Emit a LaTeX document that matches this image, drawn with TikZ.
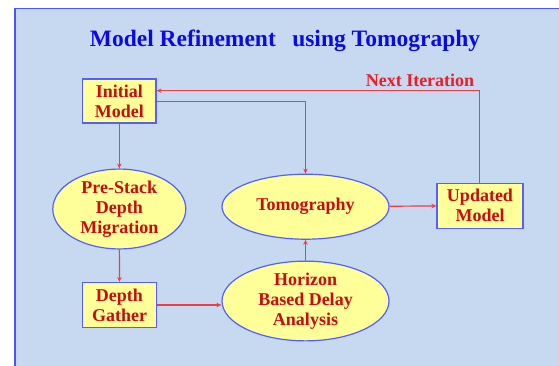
\documentclass[tikz,border=0pt]{standalone}
\usepackage{fontspec}
\setmainfont{LiberationSerif}[Extension=.ttf, UprightFont=*-Regular, BoldFont=*-Bold, ItalicFont=*-Italic, BoldItalicFont=*-BoldItalic]
\usetikzlibrary{shapes.geometric,arrows.meta}
\definecolor{panelbg}{RGB}{198,217,240}
\definecolor{panelline}{RGB}{80,80,255}
\definecolor{nodeline}{RGB}{85,95,255}
\definecolor{nodefill}{RGB}{255,255,153}
\definecolor{nodetext}{RGB}{200,12,20}
\definecolor{arrowred}{RGB}{240,60,70}
\definecolor{labelred}{RGB}{235,30,40}
\definecolor{titleblue}{RGB}{10,10,230}
\tikzset{
  boxnode/.style={draw=nodeline, line width=1.2pt, fill=nodefill, text=nodetext,
    font=\fontsize{18}{20}\selectfont\bfseries, align=center, inner sep=0pt},
  ellnode/.style={ellipse, draw=nodeline, line width=1.2pt, fill=nodefill, text=nodetext,
    font=\fontsize{18}{20}\selectfont\bfseries, align=center, inner sep=0pt},
  arr/.style={draw=arrowred, line width=1.2pt, -{Stealth[length=5pt,width=4.5pt]}}
}
\begin{document}
\begin{tikzpicture}[x=1pt,y=-1pt]
\useasboundingbox (0,0) rectangle (559,365);
\fill[white] (0,0) rectangle (559,365);
\fill[panelbg] (15,8.5) rectangle (560,366);
\draw[panelline, line width=1.2pt] (15,366) -- (15,8.5) -- (560,8.5);
\node[anchor=base, text=titleblue, font=\fontsize{23.5}{28}\selectfont\bfseries] (title) at (285,46)
  {Model Refinement\hspace{0.7em}using Tomography};
\node[boxnode, minimum width=73.5pt, minimum height=44pt] (init) at (119.3,101) {Initial\\Model};
\node[ellnode, minimum width=133pt, minimum height=72pt] (psdm) at (119.3,209) {Pre-Stack\\Depth\\Migration};
\node[boxnode, minimum width=73.5pt, minimum height=45pt] (dg) at (119.5,305) {Depth\\Gather};
\node[ellnode, minimum width=167pt, minimum height=65pt] (tomo) at (305.5,206.7) {Tomography};
\node[ellnode, minimum width=167pt, minimum height=64pt] (hor) at (305.5,301) {Horizon\\Based Delay\\Analysis};
\node[boxnode, minimum width=86pt, minimum height=45pt] (upd) at (480,205.7) {Updated\\Model};
\node[text=labelred, font=\fontsize{18}{20}\selectfont\bfseries] (next) at (420,80) {Next Iteration};
\draw[arr] (init) -- (psdm);
\draw[arr] (psdm) -- (dg);
\draw[arr] (dg.east) -- (dg.east -| hor.west);
\draw[arr] (hor) -- (tomo);
\draw[arr] (tomo) -- (upd);
\coordinate (inpt) at ([yshift=10.3pt]init.east);
\coordinate (outpt) at ([yshift=-0.7pt]init.east);
\draw[arr] ([xshift=-0.7pt]upd.north) |- (inpt);
\draw[arr] (outpt) -| (tomo.north);
\end{tikzpicture}
\end{document}
